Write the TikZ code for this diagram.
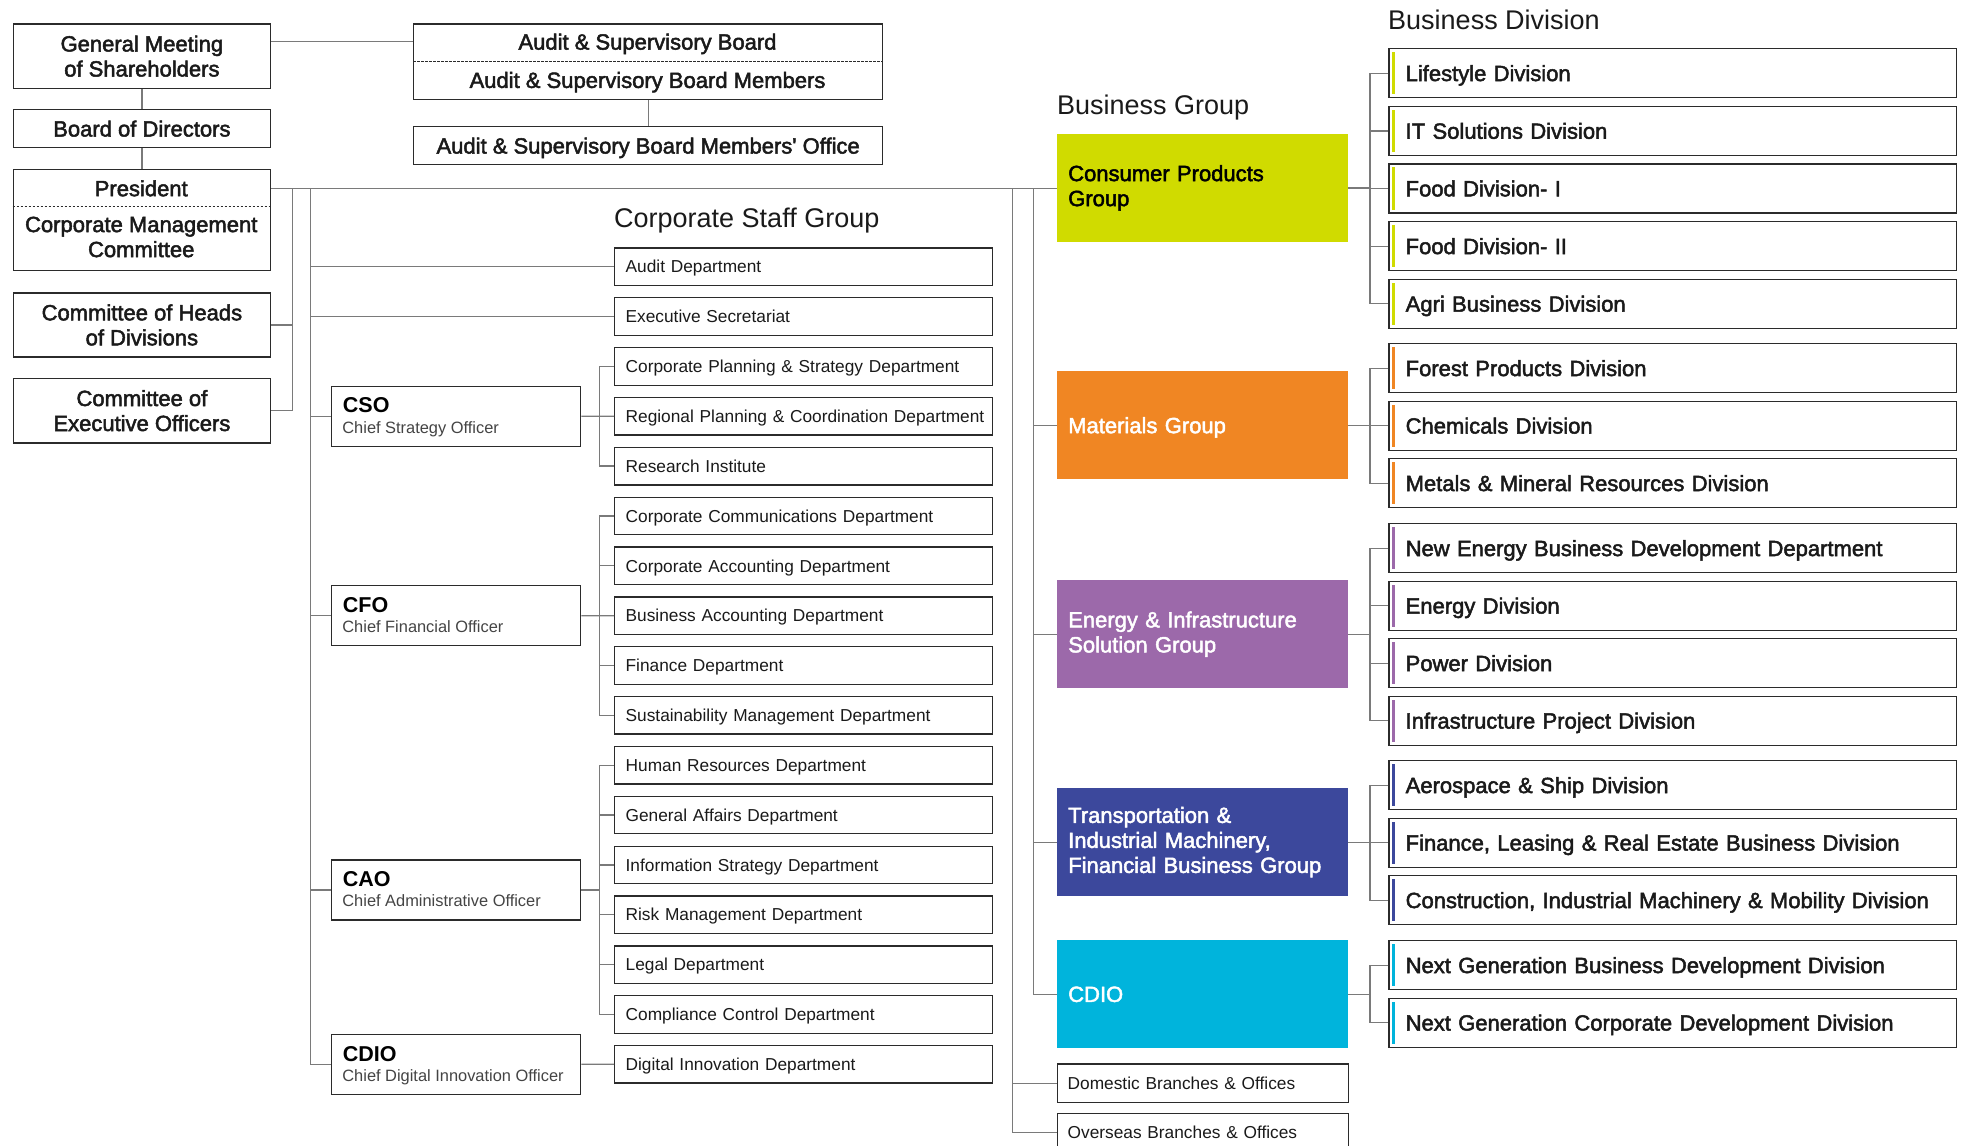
\documentclass[tikz,border=0pt]{standalone}
\usepackage{fontspec}
\setmainfont{Liberation Sans}
\newfontfamily\medfont{Liberation Sans}[BoldFont={Liberation Sans}, BoldFeatures={FakeBold=2.2}]
\definecolor{wiregray}{HTML}{7A7A7A}
\definecolor{framecol}{HTML}{2B2B2B}
\definecolor{inktext}{HTML}{1A1A1A}
\definecolor{subtext}{HTML}{444444}
\definecolor{cpgcol}{HTML}{D0DB00}
\definecolor{matcol}{HTML}{F08623}
\definecolor{eiscol}{HTML}{9C69AA}
\definecolor{timcol}{HTML}{3C489C}
\definecolor{cdiocol}{HTML}{00B4DC}
\newcommand\medtext{\medfont\bfseries\fontsize{22}{25}\selectfont}
\newcommand\depttext{\fontsize{17.3}{20}\selectfont}
\newcommand\headtext{\fontsize{27}{30}\selectfont}
\begin{document}
\begin{tikzpicture}[x=1pt,y=-1pt,
  wire/.style={draw=wiregray, line width=1.3pt},
  sep/.style={draw=framecol, line width=1pt, dash pattern=on 2.5pt off 1.5pt},
  frame/.style={rectangle, draw=framecol, line width=1.3pt, fill=white, inner sep=0pt, anchor=north west, text=inktext},
  leftbox/.style={frame, minimum width=257.5pt, align=center, font=\medtext},
  capline/.style={inner sep=0pt, text height=15.8pt, text depth=0pt, text=inktext},
  dept/.style={frame, minimum width=378pt, minimum height=37.5pt, inner xsep=11pt,
    text width=356pt, align=left, font=\depttext, text height=12.4pt, text depth=0pt},
  officer/.style={frame, minimum width=249.3pt, minimum height=60pt},
  group/.style={rectangle, anchor=north west, inner sep=0pt, inner xsep=11.3pt,
    minimum width=291pt, minimum height=108pt, text width=268.4pt, align=left, font=\medtext},
  branch/.style={frame, minimum width=291pt, minimum height=38.5pt, inner xsep=10.3pt,
    text width=270.4pt, align=left, font=\depttext, text height=12.4pt, text depth=0pt},
  division/.style={frame, minimum width=567.7pt, minimum height=49pt, inner xsep=16.7pt,
    text width=534.3pt, align=left, font=\medtext, text height=15.8pt, text depth=0pt},
  heading/.style={anchor=base west, inner sep=0pt, font=\headtext, text=inktext}
]
\useasboundingbox (0,0) rectangle (1966,1146);
\clip (0,0) rectangle (1966,1146);
\fill[white] (0,0) rectangle (1966,1146);

% ---------- governance column ----------
\node[leftbox, minimum height=64.4pt] (gm) at (12.5,23.3) {General Meeting\\of Shareholders};
\node[leftbox, minimum height=38pt] (bod) at (12.5,109) {Board of Directors};
\node[leftbox, minimum height=101.5pt] (pres) at (12.5,168.5) {};
\draw[sep] (pres.west |- 0,206) -- (pres.east |- 0,206);
\node[capline, font=\medtext] (pres-t) at (141.25,188.3) {President};
\node[inner sep=0pt, align=center, font=\medtext, text=inktext] (cmc-t) at (141.25,237) {Corporate Management\\Committee};
\node[leftbox, minimum height=64pt] (coh) at (12.5,292.3) {Committee of Heads\\of Divisions};
\node[leftbox, minimum height=64.6pt] (ceo) at (12.5,377.7) {Committee of\\Executive Officers};

% ---------- audit ----------
\node[frame, minimum width=469pt, minimum height=75.7pt] (asb) at (413,23.3) {};
\draw[sep] (asb.west |- 0,61) -- (asb.east |- 0,61);
\node[capline, font=\medtext] (asb-t) at (647.5,41.7) {Audit \& Supervisory Board};
\node[capline, font=\medtext] (asbm-t) at (647.5,80) {Audit \& Supervisory Board Members};
\node[frame, minimum width=469pt, minimum height=38pt, font=\medtext, text height=15.8pt, text depth=0pt] (asbo) at (413,126) {Audit \& Supervisory Board Members' Office};

\draw[wire] (gm.east |- asb-t) -- (asb-t -| asb.west);
\draw[wire] (gm.south) -- (bod.north);
\draw[wire] (bod.south) -- (pres.north);
\draw[wire] (asb.south) -- (asbo.north);

% ---------- headings ----------
\node[heading] (h-staff) at (614,227) {Corporate Staff Group};
\node[heading] (h-group) at (1057,114) {Business Group};
\node[heading] (h-div) at (1388,29) {Business Division};

% ---------- corporate staff departments ----------
\foreach \i/\txt in {0/Audit Department, 1/Executive Secretariat,
  2/Corporate Planning \& Strategy Department, 3/Regional Planning \& Coordination Department,
  4/Research Institute, 5/Corporate Communications Department, 6/Corporate Accounting Department,
  7/Business Accounting Department, 8/Finance Department, 9/Sustainability Management Department,
  10/Human Resources Department, 11/General Affairs Department, 12/Information Strategy Department,
  13/Risk Management Department, 14/Legal Department, 15/Compliance Control Department,
  16/Digital Innovation Department}
  \node[dept] (d\i) at (614,{247.3+49.85*\i}) {\mbox{\txt}};

% ---------- officers ----------
\foreach \nm/\ty/\ab/\full in {cso/385.5/CSO/Chief Strategy Officer, cfo/585/CFO/Chief Financial Officer,
  cao/859.2/CAO/Chief Administrative Officer, cdio/1033.6/CDIO/Chief Digital Innovation Officer} {
  \node[officer] (o-\nm) at (330.7,\ty) {};
  \node[anchor=base west, inner sep=0pt, font=\bfseries\fontsize{21.5}{24}\selectfont, text=black]
    (o-\nm-t) at ([xshift=12pt,yshift=-27.4pt]o-\nm.north west) {\ab};
  \node[anchor=base west, inner sep=0pt, font=\fontsize{16.4}{19}\selectfont, text=subtext]
    (o-\nm-s) at ([xshift=11.5pt,yshift=-47.7pt]o-\nm.north west) {\full};
}

% ---------- business groups ----------
\node[group, fill=cpgcol, text=black] (cpg) at (1056.7,133.7) {Consumer Products\\Group};
\node[group, fill=matcol, text=white, text depth=0pt] (mat) at (1056.7,371) {Materials Group};
\node[group, fill=eiscol, text=white] (eis) at (1056.7,580) {Energy \& Infrastructure\\Solution Group};
\node[group, fill=timcol, text=white] (tim) at (1056.7,788) {Transportation \&\\Industrial Machinery,\\Financial Business Group};
\node[group, fill=cdiocol, text=white, text depth=0pt] (cdg) at (1056.7,940) {CDIO};
\node[branch] (dom) at (1056.7,1063.3) {Domestic Branches \& Offices};
\node[branch] (ovs) at (1056.7,1112.5) {Overseas Branches \& Offices};

% ---------- business divisions ----------
\foreach \nm/\ty/\col/\txt in {
  v1/48/cpgcol/Lifestyle Division, v2/105.7/cpgcol/IT Solutions Division,
  v3/163.3/cpgcol/Food Division- I, v4/221/cpgcol/Food Division- II,
  v5/278.6/cpgcol/Agri Business Division,
  v6/343/matcol/Forest Products Division, v7/400.5/matcol/Chemicals Division,
  v8/458/matcol/Metals \& Mineral Resources Division,
  v9/523/eiscol/New Energy Business Development Department, v10/580.5/eiscol/Energy Division,
  v11/638/eiscol/Power Division, v12/695.5/eiscol/Infrastructure Project Division,
  v13/760/timcol/Aerospace \& Ship Division, v14/817.5/timcol/{Finance, Leasing \& Real Estate Business Division},
  v15/875/timcol/{Construction, Industrial Machinery \& Mobility Division},
  v16/940/cdiocol/Next Generation Business Development Division,
  v17/997.5/cdiocol/Next Generation Corporate Development Division} {
  \node[division] (\nm) at (1388.3,\ty) {\txt};
  \fill[\col] ([xshift=3.4pt,yshift=-4pt]\nm.north west) rectangle ([xshift=6.8pt,yshift=4pt]\nm.south west);
}

% ---------- connectors: president ----------
\coordinate (busA) at (292.3,188.3);
\coordinate (busB) at (310.7,188.3);
\coordinate (busC) at (1012.3,188.3);
\coordinate (busD) at (1033.3,188.3);
\coordinate (sbus) at (599.3,0);
\coordinate (vbus) at (1370,0);

\draw[wire] (pres.east |- pres-t) -- (cpg.west |- pres-t);
\draw[wire] (busA) |- (ceo.east);
\draw[wire] (busA |- coh.east) -- (coh.east);
\draw[wire] (busB) |- (o-cdio.west);
\foreach \t in {d0,d1} \draw[wire] (busB |- \t.west) -- (\t.west);
\foreach \t in {o-cso,o-cfo,o-cao} \draw[wire] (busB |- \t.west) -- (\t.west);

% ---------- connectors: officers to departments ----------
\draw[wire] (d2.west) -| (sbus |- d4.west) -- (d4.west);
\draw[wire] (o-cso.east) -- (d3.west);
\draw[wire] (d5.west) -| (sbus |- d9.west) -- (d9.west);
\foreach \t in {d6,d8} \draw[wire] (sbus |- \t.west) -- (\t.west);
\draw[wire] (o-cfo.east) -- (d7.west);
\draw[wire] (d10.west) -| (sbus |- d15.west) -- (d15.west);
\foreach \t in {d11,d12,d13,d14} \draw[wire] (sbus |- \t.west) -- (\t.west);
\draw[wire] (o-cao.east) -- (o-cao.east -| sbus);
\draw[wire] (o-cdio.east) -- (d16.west);

% ---------- connectors: business groups ----------
\draw[wire] (busC) |- (ovs.west);
\draw[wire] (busC |- dom.west) -- (dom.west);
\draw[wire] (busD) |- (cdg.west);
\foreach \t in {mat,eis,tim} \draw[wire] (busD |- \t.west) -- (\t.west);

% ---------- connectors: groups to divisions ----------
\draw[wire] (v1.west) -| (vbus |- v5.west) -- (v5.west);
\foreach \t in {v2,v3,v4} \draw[wire] (vbus |- \t.west) -- (\t.west);
\draw[wire] (cpg.east) -- (cpg.east -| vbus);
\draw[wire] (v6.west) -| (vbus |- v8.west) -- (v8.west);
\draw[wire] (vbus |- v7.west) -- (v7.west);
\draw[wire] (mat.east) -- (mat.east -| vbus);
\draw[wire] (v9.west) -| (vbus |- v12.west) -- (v12.west);
\foreach \t in {v10,v11} \draw[wire] (vbus |- \t.west) -- (\t.west);
\draw[wire] (eis.east) -- (eis.east -| vbus);
\draw[wire] (v13.west) -| (vbus |- v15.west) -- (v15.west);
\draw[wire] (vbus |- v14.west) -- (v14.west);
\draw[wire] (tim.east) -- (tim.east -| vbus);
\draw[wire] (v16.west) -| (vbus |- v17.west) -- (v17.west);
\draw[wire] (cdg.east) -- (cdg.east -| vbus);
\end{tikzpicture}
\end{document}
